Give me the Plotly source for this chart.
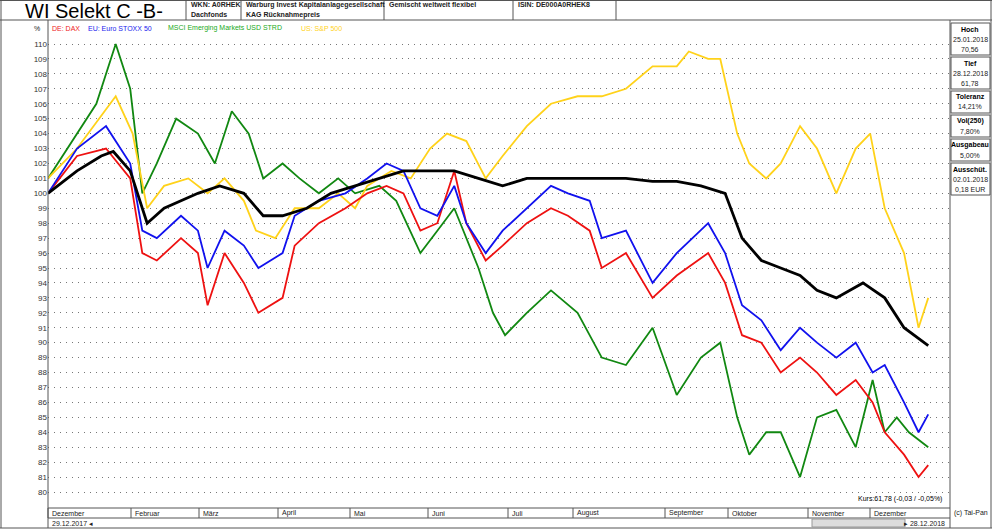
import plotly.graph_objects as go

dax_d = ["2017-12-29","2018-01-10","2018-01-22","2018-02-01","2018-02-06","2018-02-12","2018-02-22","2018-03-01","2018-03-05","2018-03-12","2018-03-20","2018-03-26","2018-04-05","2018-04-10","2018-04-20","2018-05-01","2018-05-10","2018-05-18","2018-05-25","2018-06-01","2018-06-08","2018-06-15","2018-06-20","2018-06-28","2018-07-05","2018-07-15","2018-07-25","2018-08-01","2018-08-10","2018-08-15","2018-08-25","2018-09-05","2018-09-15","2018-09-28","2018-10-05","2018-10-12","2018-10-20","2018-10-28","2018-11-05","2018-11-12","2018-11-20","2018-11-28","2018-12-05","2018-12-10","2018-12-18","2018-12-24","2018-12-28"]
dax_v = [100,102.5,103,101,96,95.5,97,96,92.5,96,94,92,93,96.5,98,99,100,100.5,100,97.5,98,101.5,98,95.5,96.5,98,99,98.5,97.5,95,96,93,94.5,96,94,90.5,90,88,89,88,86.5,87.5,86,84,82.5,81,81.8]

stoxx_d = dax_d
stoxx_v = [100,103,104.5,102,97.5,97,98.5,97.5,95,97.5,96.5,95,96,98.5,99.5,100,101,102,101.5,99,98.5,100.5,98,96,97.5,99,100.5,100,99.5,97,97.5,94,96,98,96,92.5,91.5,89.5,91,90,89,90,88,88.5,86,84,85.2]

em_d = ["2017-12-29","2018-01-08","2018-01-18","2018-01-26","2018-02-01","2018-02-06","2018-02-12","2018-02-20","2018-03-01","2018-03-08","2018-03-15","2018-03-22","2018-03-28","2018-04-05","2018-04-12","2018-04-20","2018-04-28","2018-05-05","2018-05-15","2018-05-22","2018-06-01","2018-06-08","2018-06-15","2018-06-25","2018-07-01","2018-07-06","2018-07-15","2018-07-25","2018-08-05","2018-08-15","2018-08-25","2018-09-05","2018-09-15","2018-09-25","2018-10-03","2018-10-10","2018-10-15","2018-10-22","2018-10-28","2018-11-05","2018-11-12","2018-11-20","2018-11-28","2018-12-05","2018-12-10","2018-12-15","2018-12-20","2018-12-28"]
em_v = [101,103.5,106,110,107,100,102,105,104,102,105.5,104,101,102,101,100,101,100,100.5,99.5,96,97.5,99,95,92,90.5,92,93.5,92,89,88.5,91,86.5,89,90,85,82.5,84,84,81,85,85.5,83,87.5,84,85,84,83]

spx_d = ["2017-12-29","2018-01-10","2018-01-26","2018-02-02","2018-02-08","2018-02-15","2018-02-25","2018-03-05","2018-03-12","2018-03-20","2018-03-25","2018-04-02","2018-04-10","2018-04-20","2018-04-28","2018-05-05","2018-05-10","2018-05-20","2018-05-28","2018-06-05","2018-06-12","2018-06-20","2018-06-28","2018-07-05","2018-07-15","2018-07-25","2018-08-05","2018-08-15","2018-08-25","2018-09-05","2018-09-15","2018-09-20","2018-09-28","2018-10-03","2018-10-10","2018-10-15","2018-10-22","2018-10-28","2018-11-05","2018-11-12","2018-11-20","2018-11-28","2018-12-04","2018-12-10","2018-12-18","2018-12-24","2018-12-28"]
spx_v = [101,103,106.5,104,99,100.5,101,100,101,99.5,97.5,97,99,99,100,99,100.5,101.5,101,103,104,103.5,101,102.5,104.5,106,106.5,106.5,107,108.5,108.5,109.5,109,109,104,102,101,102,104.5,103,100,103,104,99,96,91,93]

fund_d = ["2017-12-29","2018-01-10","2018-01-20","2018-01-25","2018-02-01","2018-02-08","2018-02-15","2018-02-22","2018-03-01","2018-03-10","2018-03-20","2018-03-28","2018-04-05","2018-04-15","2018-04-25","2018-05-05","2018-05-15","2018-05-25","2018-06-05","2018-06-15","2018-06-25","2018-07-05","2018-07-15","2018-07-25","2018-08-05","2018-08-15","2018-08-25","2018-09-05","2018-09-15","2018-09-25","2018-10-05","2018-10-12","2018-10-20","2018-10-28","2018-11-05","2018-11-12","2018-11-20","2018-12-01","2018-12-10","2018-12-18","2018-12-28"]
fund_v = [100,101.5,102.5,102.8,101.5,98,99,99.5,100,100.5,100,98.5,98.5,99,100,100.5,101,101.5,101.5,101.5,101,100.5,101,101,101,101,101,100.8,100.8,100.5,100,97,95.5,95,94.5,93.5,93,94,93,91,89.8]

months = ["Dezember","Februar","März","April","Mai","Juni","Juli","August","September","Oktober","November","Dezember"]
month_px = [48,131,199,278,350,428,508,573,665,728,808,870]
yticks = list(range(80, 111))
info = [("Hoch","25.01.2018","70,56"),("Tief","28.12.2018","61,78"),("Toleranz","14,21%",None),
        ("Vol(250)","7,80%",None),("Ausgabeau","5,00%",None),("Ausschüt.","02.01.2018","0,18 EUR")]

W, H = 992, 529
L, R, T, B = 48, 950, 30, 508
fig = go.Figure()
for d, v, c, w in [(em_d, em_v, "#118811", 1.8), (spx_d, spx_v, "#FFD21A", 1.8), (dax_d, dax_v, "#EE1111", 1.8),
                   (stoxx_d, stoxx_v, "#1111EE", 1.8), (fund_d, fund_v, "#000000", 2.8)]:
    fig.add_trace(go.Scatter(x=d, y=v, mode="lines", line=dict(color=c, width=w), showlegend=False))

y0 = 80 - (B - 492) / 14.93
y1 = 110 + (44 - T) / 14.93
fig.update_layout(
    width=W, height=H, margin=dict(l=L, r=W - R, t=T, b=H - B),
    paper_bgcolor="white", plot_bgcolor="white", font=dict(family="Liberation Sans", size=8, color="#333"),
    xaxis=dict(range=["2017-12-29", "2019-01-06"], showticklabels=False, showgrid=False, zeroline=False,
               showline=False, fixedrange=True),
    yaxis=dict(range=[y0, y1], tickvals=yticks, ticktext=[str(t) for t in yticks], showgrid=True,
               griddash="1px,5px", gridcolor="#777", gridwidth=1, zeroline=False, ticks="", tickfont=dict(size=8)),
)
shapes = []
def line(x0, y0_, x1, y1_, c="#555", w=1):
    shapes.append(dict(type="line", xref="paper", yref="paper", x0=(x0 - L) / (R - L), x1=(x1 - L) / (R - L),
                       y0=(B - y0_) / (B - T), y1=(B - y1_) / (B - T), line=dict(color=c, width=w)))
def px(x, y):
    return (x - L) / (R - L), (B - y) / (B - T)
ann = []
def text(x, y, s, size=8, color="#222", xa="left", bold=False):
    ax, ay = px(x, y)
    ann.append(dict(xref="paper", yref="paper", x=ax, y=ay, text=("<b>%s</b>" % s) if bold else s, showarrow=False,
                    xanchor=xa, yanchor="middle", font=dict(size=size, color=color)))
line(0, 0.5, 992, 0.5); line(0, 20, 992, 20); line(0, 528, 992, 528); line(1, 0, 1, 528); line(991, 0, 991, 528)
line(L, 20, L, 528); line(R, 20, R, 528); line(L, B, R, B); line(L, 518, R, 518)
for xx in [186, 241, 384, 513, 616]:
    line(xx, 0, xx, 20)
text(94, 11, "WI Selekt C -B-", size=20, color="#000", xa="center")
text(189, 5, "WKN: A0RHEK", size=7, bold=True); text(189, 15, "Dachfonds", size=7, bold=True)
text(244, 5, "Warburg Invest Kapitalanlagegesellschaft", size=7, bold=True); text(244, 15, "KAG Rücknahmepreis", size=7, bold=True)
text(387, 5, "Gemischt weltweit flexibel", size=7, bold=True)
text(516, 5, "ISIN: DE000A0RHEK8", size=7, bold=True)
text(42, 28, "%", size=7, xa="right")
x = 50
for s, c, wdt in [("DE: DAX", "#EE2222", 36), ("EU: Euro STOXX 50", "#2222EE", 80), ("MSCI Emerging Markets USD STRD", "#22AA22", 133), ("US: S&P 500", "#FFD21A", 50)]:
    text(x, 28, s, size=7, color=c); x += wdt
for m, p in zip(months, month_px):
    line(p, B, p, 518); text(p + 2, 513, m, size=7)
text(50, 523, "29.12.2017 ◂", size=7)
shapes.append(dict(type="rect", xref="paper", yref="paper", x0=px(812, 0)[0], x1=px(905, 0)[0], y0=px(0, 527)[1], y1=px(0, 519)[1],
                   fillcolor="#ddd", line=dict(color="#999", width=1)))
text(947, 523, "▸ 28.12.2018", size=7, xa="right")
text(971, 513, "(c) Tai-Pan", size=7, xa="center")
text(944, 499, "Kurs:61,78 (-0,03 / -0,05%)", size=7, color="#000", xa="right")
yy = 23
for h, a, b in info:
    n = 3 if b else 2
    hgt = 10 * n + 2
    shapes.append(dict(type="rect", xref="paper", yref="paper", x0=px(951, 0)[0], x1=px(990, 0)[0],
                       y0=px(0, yy + hgt)[1], y1=px(0, yy)[1], line=dict(color="#555", width=1), fillcolor="white"))
    text(970, yy + 6, h, size=7, xa="center", bold=True, color="#000")
    text(970, yy + 16, a, size=7, xa="center")
    if b:
        text(970, yy + 26, b, size=7, xa="center")
    yy += hgt + 2
fig.update_layout(shapes=shapes, annotations=ann)
fig.write_html("out.html", config={"displayModeBar": False},
               post_script="document.body.style.margin='0';document.body.style.overflow='hidden';")
